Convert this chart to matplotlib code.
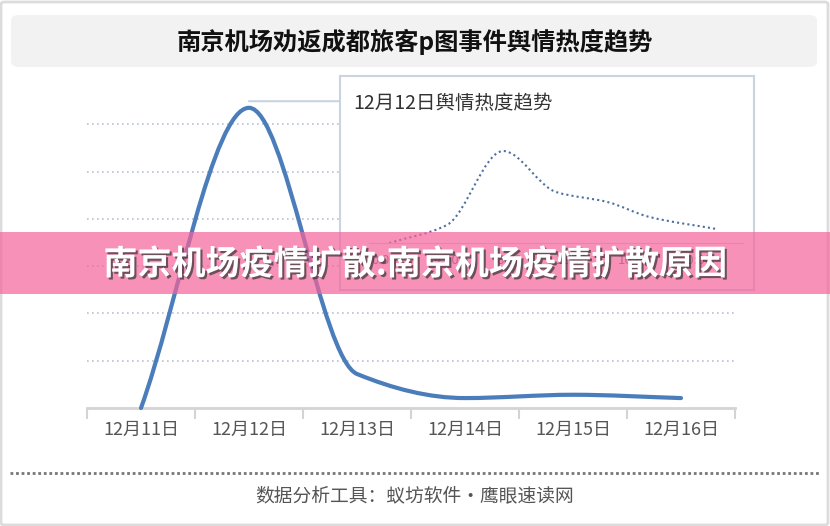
import numpy as np
import matplotlib
matplotlib.use("Agg")
import matplotlib.pyplot as plt
from matplotlib.path import Path
from matplotlib.patches import PathPatch, FancyBboxPatch, Rectangle, ConnectionPatch
import matplotlib.patheffects as pe
from matplotlib.transforms import blended_transform_factory

plt.rcParams['font.family'] = ['Noto Sans CJK SC', 'DejaVu Sans']

# ===== data =====
days = ["12月11日", "12月12日", "12月13日", "12月14日", "12月15日", "12月16日"]
heat = [0.0, 6.35, 0.72, 0.21, 0.28, 0.21]

inset_hours = [1.3, 5.0, 8.6, 12.0, 15.3, 18.0, 22.3]
inset_heat = [0, 18, 92, 51, 41, 26, 14]
inset_ticks = ["0:00", "4:00", "8:00", "12:00", "16:00", "20:00"]
inset_tick_pos = [1, 5, 9, 13, 17, 21]

title = "南京机场劝返成都旅客p图事件舆情热度趋势"
inset_title = "12月12日舆情热度趋势"
banner = "南京机场疫情扩散:南京机场疫情扩散原因"
footer = "数据分析工具：蚁坊软件・鹰眼速读网"


def smooth_path(xs, ys):
    # monotone cubic (pchip-style) drawn as bezier segments, no overshoot
    x = np.asarray(xs, float)
    y = np.asarray(ys, float)
    h = np.diff(x)
    d = np.diff(y) / h
    m = np.zeros_like(y)
    m[0], m[-1] = d[0], d[-1]
    for i in range(1, len(y) - 1):
        if d[i - 1] * d[i] > 0:
            w1 = 2 * h[i] + h[i - 1]
            w2 = h[i] + 2 * h[i - 1]
            m[i] = (w1 + w2) / (w1 / d[i - 1] + w2 / d[i])
    verts = [(x[0], y[0])]
    codes = [Path.MOVETO]
    for i in range(len(x) - 1):
        k = h[i] / 3
        verts += [(x[i] + k, y[i] + m[i] * k),
                  (x[i + 1] - k, y[i + 1] - m[i + 1] * k),
                  (x[i + 1], y[i + 1])]
        codes += [Path.CURVE4] * 3
    return Path(verts, codes)


W, H = 830, 526
fig = plt.figure(figsize=(W / 100, H / 100), dpi=100)
fig.patch.set_facecolor("white")

# outer frame
fig.add_artist(FancyBboxPatch((1 / W, 1 / H), 1 - 3 / W, 1 - 3 / H,
                              boxstyle="round,pad=0,rounding_size=0.004",
                              transform=fig.transFigure, fc="none", ec="#dcdcdc",
                              lw=2, zorder=-5))

# title box
fig.add_artist(FancyBboxPatch((11 / W, 1 - 67 / H), 806 / W, 52 / H,
                              boxstyle="round,pad=0,rounding_size=0.01",
                              transform=fig.transFigure, fc="#f2f2f2", ec="none",
                              zorder=-5))
fig.text(0.5, 1 - 42 / H, title, ha="center", va="center", fontsize=17.5,
         fontweight="bold", color="#111111")

# ===== main chart =====
ax = fig.add_axes([87 / W, 1 - 408 / H, 648 / W, 312 / H])
ax.patch.set_alpha(0)
ax.set_xlim(-0.5, len(days) - 0.5)
ax.set_ylim(0, 6.6)
for s in ["top", "right", "left"]:
    ax.spines[s].set_visible(False)
ax.spines["bottom"].set_color("#d4d4d4")
ax.spines["bottom"].set_linewidth(2)
ax.set_yticks(range(1, 7))
ax.set_yticklabels([])
ax.tick_params(axis="y", length=0)
ax.yaxis.grid(True, linestyle=(0, (1, 2)), color="#b8c2d4", lw=1.2)
ax.set_xticks(range(len(days)))
ax.set_xticklabels(days, fontsize=13, color="#555555")
ax.tick_params(axis="x", length=0, pad=9)
ax.set_xticks(np.arange(-0.5, len(days)), minor=True)
ax.tick_params(axis="x", which="minor", length=8, width=1.5, color="#d4d4d4")

ax.add_patch(PathPatch(smooth_path(range(len(days)), heat), fc="none",
                       ec="#4a7dba", lw=3, capstyle="round", clip_on=False, zorder=3))

# ===== inset =====
box = fig.add_axes([340 / W, 1 - 290 / H, 414 / W, 214 / H])
box.set_xticks([])
box.set_yticks([])
for s in box.spines.values():
    s.set_color("#c9d4e0")
    s.set_linewidth(1.5)
box.text(13 / 414, 1 - 27 / 214, inset_title, transform=box.transAxes,
         fontsize=14, color="#333333", va="center", ha="left")

# connector from peak to inset box
peak = int(np.argmax(heat))
tr = blended_transform_factory(box.transAxes, ax.transData)
con = ConnectionPatch(xyA=(peak, max(heat) + 0.14), coordsA=ax.transData,
                      xyB=(0, max(heat) + 0.14), coordsB=tr,
                      color="#c9d4e0", lw=1.5, zorder=1)
fig.add_artist(con)

iax = fig.add_axes([369 / W, 1 - 243 / H, 374 / W, 100 / H])
iax.patch.set_alpha(0)
iax.set_xlim(0, 24)
iax.set_ylim(0, 100)
for s in ["top", "right", "left"]:
    iax.spines[s].set_visible(False)
iax.spines["bottom"].set_color("#d0d0d0")
iax.set_yticks([])
iax.set_xticks(inset_tick_pos)
iax.set_xticklabels(inset_ticks, fontsize=9.5, color="#666666")
iax.tick_params(axis="x", length=0, pad=8)
iax.add_patch(PathPatch(smooth_path(inset_hours, inset_heat), fc="none",
                        ec="#4d6fa3", lw=1.5, ls=(0, (1, 1.5)), clip_on=False))

# ===== banner =====
fig.add_artist(Rectangle((0, 1 - 294 / H), 1, 62 / H, transform=fig.transFigure,
                         fc="#f4639b", ec="none", alpha=0.7, zorder=10))
fig.text(0.5, 1 - 264 / H, banner, ha="center", va="center", fontsize=24.5,
         fontweight="bold", color="white", zorder=11,
         path_effects=[pe.withSimplePatchShadow(offset=(1.5, -1.5),
                                                shadow_rgbFace="#333333", alpha=0.7)])

# ===== footer =====
fig.add_artist(plt.Line2D([10 / W, 820 / W], [1 - 473 / H, 1 - 473 / H],
                          transform=fig.transFigure, color="#777777", lw=2,
                          ls=(0, (1, 1))))
fig.text(0.5, 1 - 497 / H, footer, ha="center", va="center", fontsize=13.5,
         color="#555555")

fig.savefig("out.png", dpi=100)
